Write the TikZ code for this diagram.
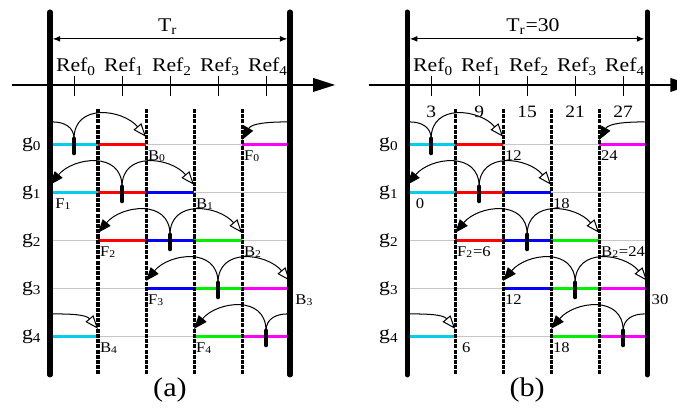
\documentclass[tikz,border=0pt]{standalone}
\usepackage{fontspec}
\setmainfont{Liberation Serif}[FakeStretch=1.12]
\usetikzlibrary{arrows.meta}
\definecolor{mycyan}{RGB}{0,204,238}
\definecolor{myred}{RGB}{255,0,0}
\definecolor{myblue}{RGB}{0,0,255}
\definecolor{mygreen}{RGB}{0,240,0}
\definecolor{mymagenta}{RGB}{255,0,255}
\tikzset{
  bar/.style={line width=3pt, line cap=round},
  axis/.style={line width=1.1pt, -{Triangle[length=13pt, width=8pt]}},
  span/.style={line width=0.6pt,
               {Latex[length=4.5pt, width=3.5pt]}-{Latex[length=4.5pt, width=3.5pt]}},
  slot/.style={line width=1.8pt, dash pattern=on 2.4pt off 0.7pt},
  base/.style={gray!45, line width=0.6pt},
  seg/.style={line width=1.8pt},
  blob/.style={line width=2.6pt, line cap=round},
  arcF/.style={line width=0.6pt, -{Triangle[length=8pt, width=6pt]}},
  arcB/.style={line width=0.6pt, -{Triangle[open, length=8pt, width=6pt]}},
  wrap/.style={line width=0.6pt},
  lab/.style={anchor=north west, inner sep=1pt, yshift=-2pt,
              font=\fontsize{8.8}{10}\selectfont},
}

\begin{document}
\begin{tikzpicture}[font=\fontsize{11.5}{13}\selectfont]
  \useasboundingbox (-1.042,-1.5) rectangle (13.062,7.02);
  \foreach \p/\ox/\ttl/\tx in {a/0/{T\textsubscript{r}}/2.45, b/7.44/{T\textsubscript{r}=30}/2.62}{
    \begin{scope}[xshift=\ox cm]
      % grid points on the rows
      \foreach \j in {0,...,4}
        \foreach \i in {0,...,5}
          \coordinate (\p-\j-\i) at (\i,4-\j);
      % time axis with the references
      \coordinate (\p-axL) at (-0.8,5.25);
      \coordinate (\p-axR) at (5.94,5.25);
      \draw[axis] (\p-axL) -- (\p-axR);
      \foreach \k in {0,...,4}{
        \draw[line width=0.5pt] (\k+0.5,5.03) -- (\k+0.5,5.43);
        \node[anchor=base] (\p-ref\k) at (\k+0.54,5.52) {Ref\textsubscript{\k}};
      }
      % rows
      \foreach \j in {0,...,4}{
        \draw[base] (\p-\j-0) -- (\p-\j-5);
        \node (\p-g\j) at (-0.38,4-\j) {g\textsubscript{\j}};
      }
      \foreach \j/\k/\c [evaluate=\k as \kk using int(\k+1)] in
          {0/0/mycyan, 0/1/myred, 0/4/mymagenta,
           1/0/mycyan, 1/1/myred, 1/2/myblue,
           2/1/myred, 2/2/myblue, 2/3/mygreen,
           3/2/myblue, 3/3/mygreen, 3/4/mymagenta,
           4/3/mygreen, 4/4/mymagenta, 4/0/mycyan}
        \draw[seg, \c] (\p-\j-\k) -- (\p-\j-\kk);
      \foreach \i in {1,...,4}
        \draw[slot] (\i,4.75) -- (\i,-0.79);
      % frame of one period
      \draw[bar] (0,6.77) -- (0,-0.79);
      \draw[bar] (5,6.77) -- (5,-0.79);
      \coordinate (\p-trL) at (0.055,6.21);
      \coordinate (\p-trR) at (4.945,6.21);
      \draw[span] (\p-trL) -- (\p-trR);
      \node (\p-tr) at (\tx,6.46) {\ttl};
      % pointers
      \foreach \j in {0,...,4}{
        \coordinate (\p-top\j) at (\j+0.5,4.13-\j);
        \coordinate (\p-wL\j) at (0.05,4.48-\j);
        \coordinate (\p-wR\j) at (4.95,4.48-\j);
        \draw[blob] (\p-top\j) -- ++(0,-0.3);
      }
      \foreach \j [evaluate=\j as \jm using int(\j-1),
                   evaluate=\j as \jp using int(\j+2)] in {1,2,3}{
        \draw[arcF] (\p-top\j) to[out=90, in=50, looseness=1.28] ([yshift=4.8pt]\p-\j-\jm);
        \draw[arcB] (\p-top\j) to[out=90, in=130, looseness=1.28] ([yshift=4.8pt]\p-\j-\jp);
      }
      \draw[arcB] (\p-top0) to[out=90, in=130, looseness=1.28] ([yshift=4.8pt]\p-0-2);
      \draw[wrap] (\p-top0) to[out=90, in=0, looseness=1.1] (\p-wL0);
      \draw[arcF] (\p-wR0) to[out=180, in=60] ([yshift=3pt]\p-0-4);
      \draw[arcF] (\p-top4) to[out=90, in=50, looseness=1.28] ([yshift=4.8pt]\p-4-3);
      \draw[wrap] (\p-top4) to[out=90, in=180, looseness=1.1] (\p-wR4);
      \draw[arcB] (\p-wL4) to[out=0, in=130] ([yshift=4.8pt]\p-4-1);
      \node[font=\fontsize{16}{18}\selectfont] (\p-cap) at (2.5,-1.1) {(\p)};
    \end{scope}
  }
  % labels of (a)
  \foreach \nm/\at/\txt/\dx in {B0/0-2/B\textsubscript{0}/0, F0/0-4/F\textsubscript{0}/0,
      F1/1-0/F\textsubscript{1}/2, B1/1-3/B\textsubscript{1}/0,
      F2/2-1/F\textsubscript{2}/0, B2/2-4/B\textsubscript{2}/0,
      F3/3-2/F\textsubscript{3}/0, B3/3-5/B\textsubscript{3}/2,
      B4/4-1/B\textsubscript{4}/0, F4/4-3/F\textsubscript{4}/0}
    \node[lab, xshift=\dx pt] (a-\nm) at (a-\at) {\txt};
  % labels of (b)
  \foreach \nm/\at/\txt/\dx in {B0/0-2/12/0, F0/0-4/24/0, F1/1-0/0/4, B1/1-3/18/0,
      F2/2-1/F\textsubscript{2}=6/0, B2/2-4/B\textsubscript{2}=24/0,
      F3/3-2/12/0, B3/3-5/30/1.5, B4/4-1/6/3, F4/4-3/18/0}
    \node[lab, xshift=\dx pt] (b-\nm) at (b-\at) {\txt};
  \foreach \k/\v in {0/3, 1/9, 2/15, 3/21, 4/27}
    \node[anchor=base, font=\fontsize{10.3}{12}\selectfont] (b-t\k) at (\k+7.94,4.58) {\v};
\end{tikzpicture}
\end{document}
